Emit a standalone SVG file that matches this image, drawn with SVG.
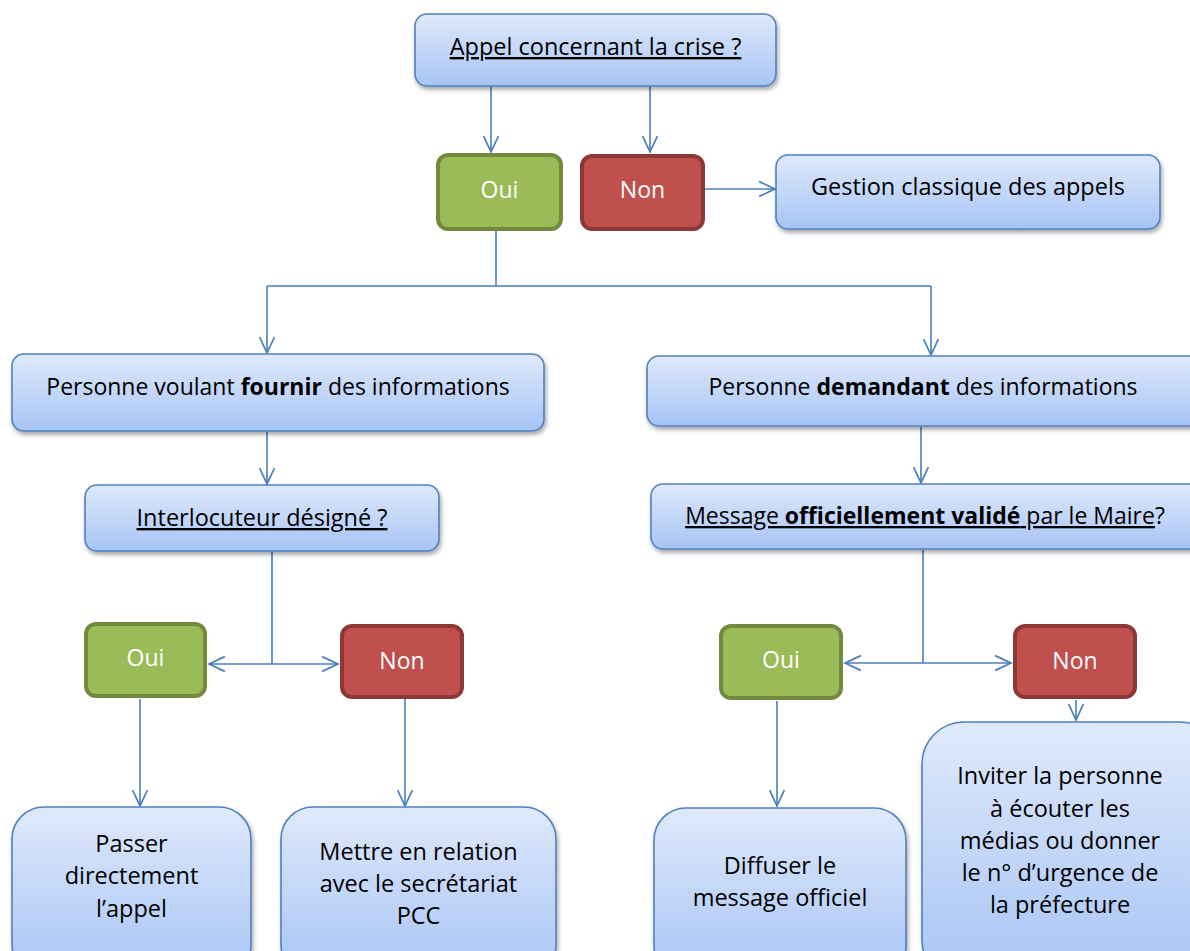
<svg xmlns="http://www.w3.org/2000/svg" width="1190" height="951" viewBox="0 0 1190 951">
  <defs>
    <linearGradient id="blueFill" x1="0" y1="0" x2="0" y2="1">
      <stop offset="0" stop-color="#dfe9fb"/>
      <stop offset="1" stop-color="#a7c4f5"/>
    </linearGradient>
    <filter id="shadow" x="-10%" y="-10%" width="125%" height="140%">
      <feDropShadow dx="1.5" dy="3" stdDeviation="2" flood-color="#000" flood-opacity="0.35"/>
    </filter>
    <marker id="arrow" markerUnits="userSpaceOnUse" markerWidth="20" markerHeight="20" viewBox="-17 -9 19 18" refX="0" refY="0" orient="auto" overflow="visible">
      <path d="M-15,-7 L0,0 L-15,7" fill="none" stroke="#4a7ebb" stroke-width="1.6"/>
    </marker>
  </defs>
  <style>
    .box { fill: url(#blueFill); stroke: #4f81bd; stroke-width: 1.6; filter: url(#shadow); }
    .yes { fill: #9bbb59; stroke: #72893e; stroke-width: 4; }
    .no { fill: #c0504d; stroke: #8c3836; stroke-width: 4; }
    .t { font-family: "Open Sans", "Liberation Sans", Arial, sans-serif; font-size: 23.5px; fill: #000; text-anchor: middle; }
    .s { font-size: 23px; }
    .w { font-family: "Open Sans", "Liberation Sans", Arial, sans-serif; font-size: 23px; fill: #fff; text-anchor: middle; }
    .b { font-weight: bold; }
    .u { text-decoration: underline; }
    .c { fill: none; stroke: #4a7ebb; stroke-width: 1.6; }
    .ca { fill: none; stroke: #4a7ebb; stroke-width: 1.6; marker-end: url(#arrow); }
  </style>

  <!-- connectors -->
  <g id="connectors">
    <path class="ca" d="M491,86 V152"/>
    <path class="ca" d="M650,86 V152"/>
    <path class="ca" d="M704,189 H775"/>
    <path class="c" d="M496,231 V286 M267,286 H931"/>
    <path class="ca" d="M267,286 V353"/>
    <path class="ca" d="M931,286 V355"/>
    <path class="ca" d="M267,432 V484"/>
    <path class="ca" d="M921,427 V483"/>
    <path class="c" d="M272,552 V664"/>
    <path class="ca" d="M272,664 H209"/>
    <path class="ca" d="M272,664 H338"/>
    <path class="ca" d="M140,699 V806"/>
    <path class="ca" d="M405,699 V806"/>
    <path class="c" d="M923,550 V663"/>
    <path class="ca" d="M923,663 H845"/>
    <path class="ca" d="M923,663 H1011"/>
    <path class="ca" d="M777,701 V806"/>
    <path class="ca" d="M1076,700 V720"/>
  </g>

  <g id="n-appel">
    <rect class="box" x="415" y="14" width="361" height="72" rx="12"/>
    <text class="t u" x="595.5" y="55">Appel concernant la crise ?</text>
  </g>

  <g id="n-oui-1">
    <rect class="yes" x="438" y="155" width="123" height="74" rx="10"/>
    <text class="w" x="499.5" y="198">Oui</text>
  </g>

  <g id="n-non-1">
    <rect class="no" x="582" y="156" width="121" height="73" rx="10"/>
    <text class="w" x="642.5" y="198">Non</text>
  </g>

  <g id="n-gestion">
    <rect class="box" x="776" y="155" width="384" height="74" rx="12"/>
    <text class="t" x="968" y="195">Gestion classique des appels</text>
  </g>

  <g id="n-fournir">
    <rect class="box" x="12" y="354" width="532" height="77" rx="12"/>
    <text class="t s" x="278" y="395">Personne voulant <tspan class="b">fournir</tspan> des informations</text>
  </g>

  <g id="n-demandant">
    <rect class="box" x="647" y="356" width="560" height="70" rx="12"/>
    <text class="t s" x="923" y="395">Personne <tspan class="b">demandant</tspan> des informations</text>
  </g>

  <g id="n-interlocuteur">
    <rect class="box" x="85" y="485" width="354" height="66" rx="12"/>
    <text class="t u" x="262" y="526">Interlocuteur désigné ?</text>
  </g>

  <g id="n-message">
    <rect class="box" x="651" y="484" width="560" height="65" rx="12"/>
    <text class="t s" x="925" y="524"><tspan class="u">Message <tspan class="b">officiellement validé</tspan> par le Maire</tspan>?</text>
  </g>

  <g id="n-oui-2">
    <rect class="yes" x="86" y="624" width="119" height="72" rx="10"/>
    <text class="w" x="145.5" y="666">Oui</text>
  </g>

  <g id="n-non-2">
    <rect class="no" x="342" y="626" width="120" height="71" rx="10"/>
    <text class="w" x="402" y="669">Non</text>
  </g>

  <g id="n-oui-3">
    <rect class="yes" x="721" y="626" width="120" height="72" rx="10"/>
    <text class="w" x="781" y="668">Oui</text>
  </g>

  <g id="n-non-3">
    <rect class="no" x="1015" y="626" width="120" height="71" rx="10"/>
    <text class="w" x="1075" y="669">Non</text>
  </g>

  <g id="n-passer">
    <rect class="box" x="12" y="807" width="239" height="170" rx="32"/>
    <text class="t" x="131.5" y="852">Passer</text>
    <text class="t" x="131.5" y="884">directement</text>
    <text class="t" x="131.5" y="917">l’appel</text>
  </g>

  <g id="n-mettre">
    <rect class="box" x="281" y="807" width="275" height="170" rx="32"/>
    <text class="t" x="418.5" y="860">Mettre en relation</text>
    <text class="t" x="418.5" y="892">avec le secrétariat</text>
    <text class="t" x="418.5" y="924">PCC</text>
  </g>

  <g id="n-diffuser">
    <rect class="box" x="654" y="808" width="252" height="170" rx="32"/>
    <text class="t" x="780" y="874">Diffuser le</text>
    <text class="t" x="780" y="906">message officiel</text>
  </g>

  <g id="n-inviter">
    <rect class="box" x="922" y="722" width="300" height="260" rx="42"/>
    <text class="t" x="1060" y="784">Inviter la personne</text>
    <text class="t" x="1060" y="817">à écouter les</text>
    <text class="t" x="1060" y="849">médias ou donner</text>
    <text class="t" x="1060" y="881">le n° d’urgence de</text>
    <text class="t" x="1060" y="913">la préfecture</text>
  </g>
</svg>
